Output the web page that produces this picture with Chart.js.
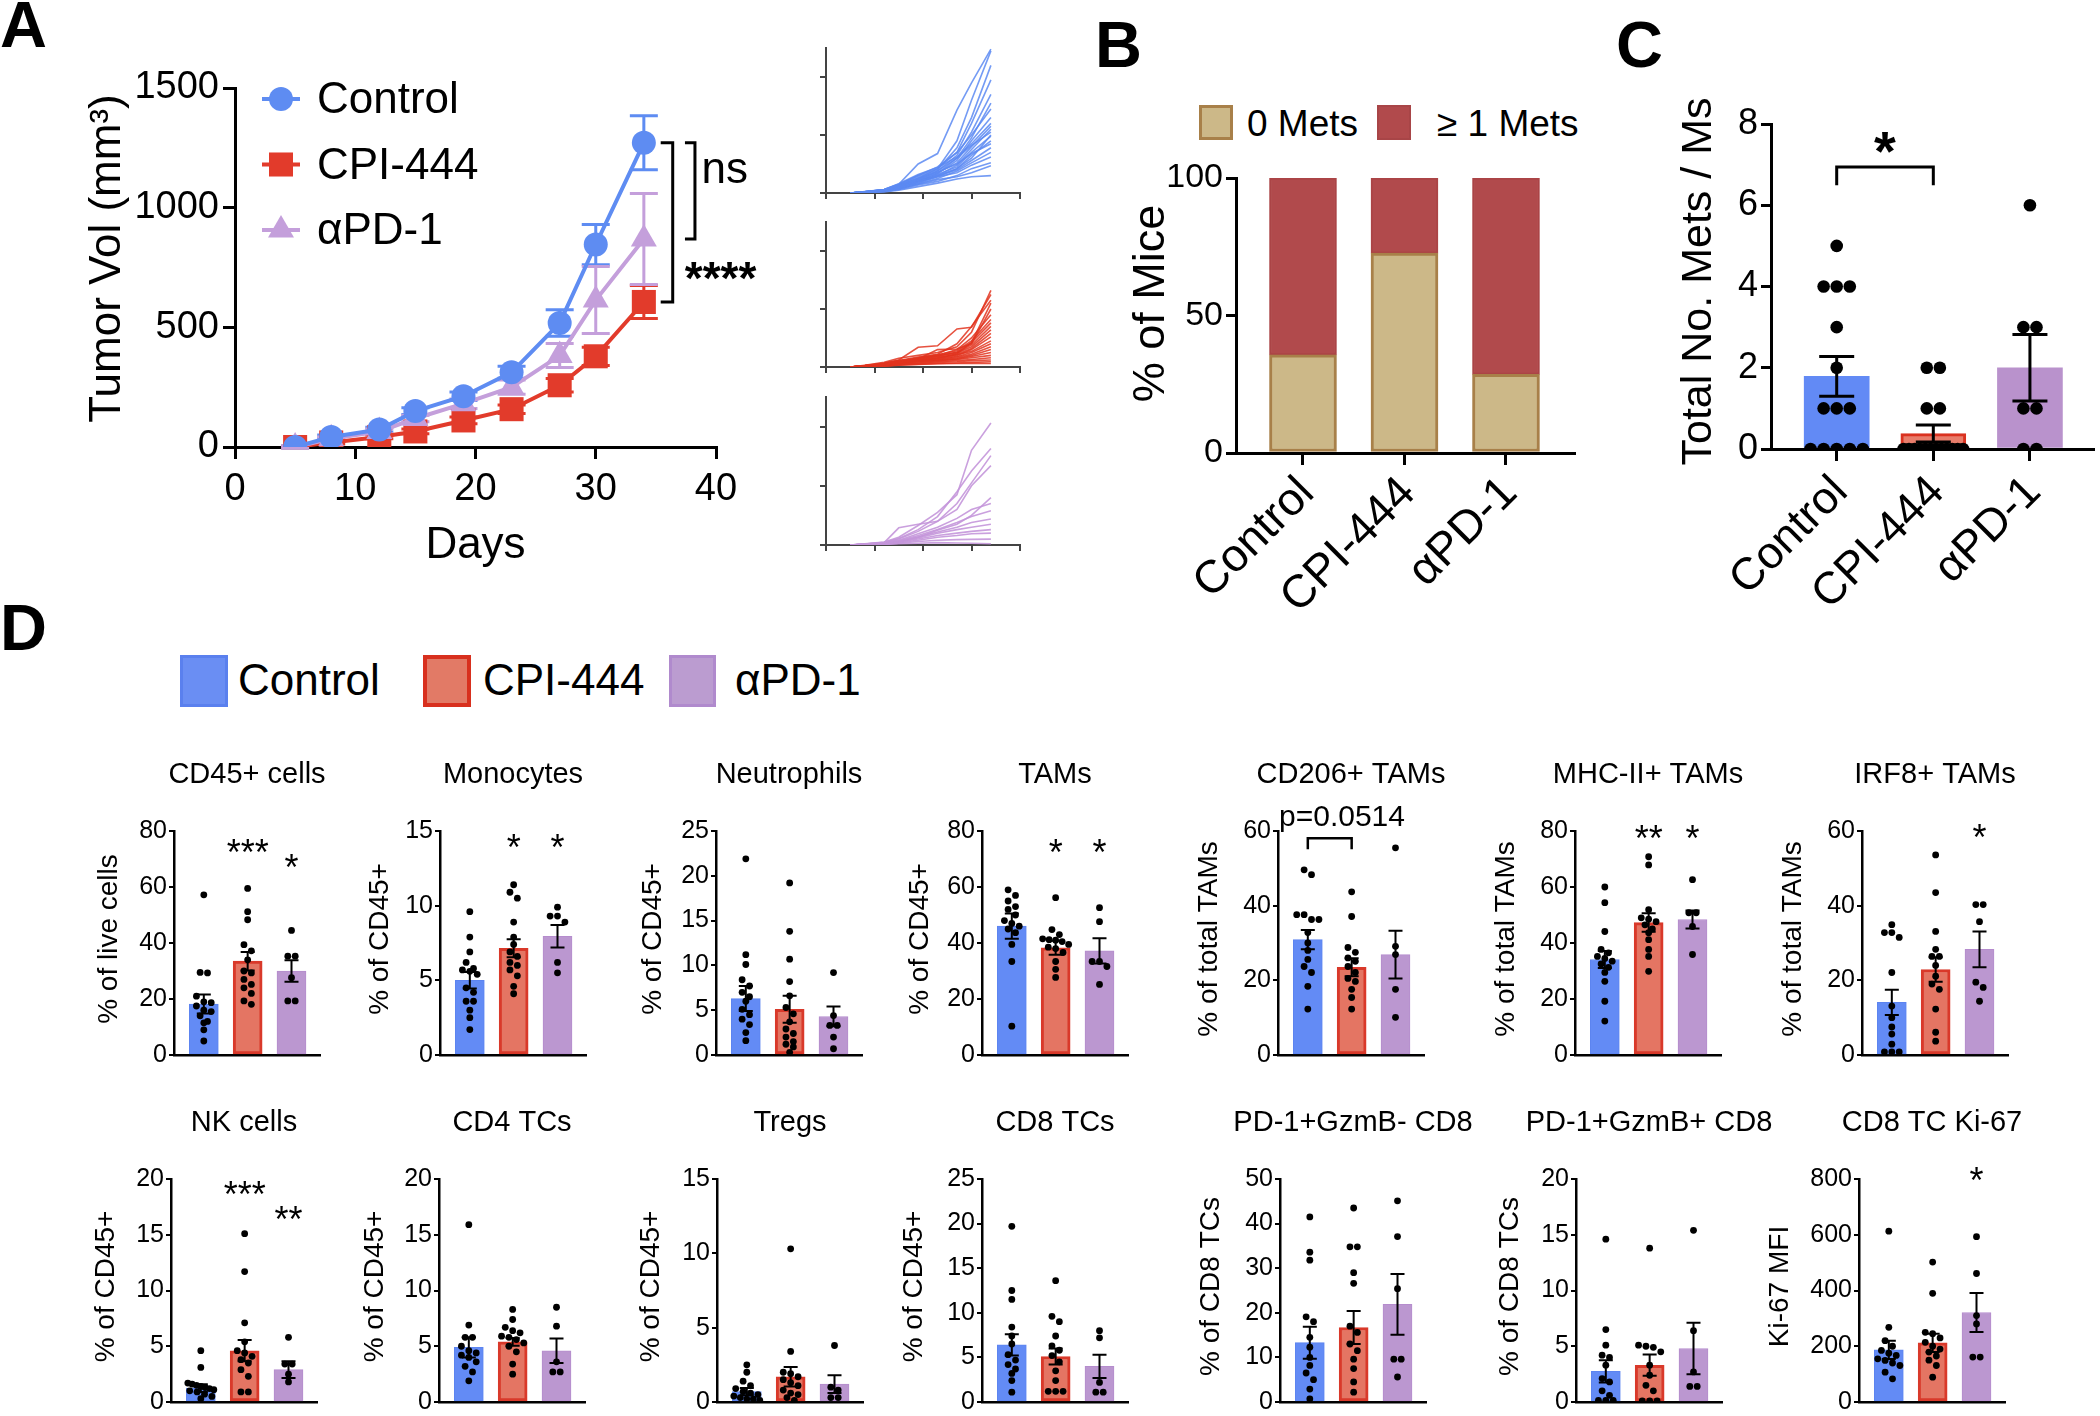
<!DOCTYPE html>
<html>
<head>
<meta charset="utf-8">
<script src="https://cdn.jsdelivr.net/npm/chart.js@4.4.1/dist/chart.umd.min.js"></script>
<style>
  body { margin: 0; background: #fff; width: 2100px; height: 1416px; position: relative; overflow: hidden;
         font-family: 'Liberation Sans', Arial, sans-serif; color: #000; }
  canvas { position: absolute; }
  .letter { position: absolute; font-weight: bold; font-size: 65px; line-height: 65px; }
  .txt { position: absolute; white-space: nowrap; }
  .box { position: absolute; box-sizing: border-box; }
</style>
</head>
<body>
<div class="letter" style="left:0px;top:-8px">A</div>
<div class="letter" style="left:1095px;top:12px">B</div>
<div class="letter" style="left:1616px;top:12px">C</div>
<div class="letter" style="left:0px;top:595px">D</div>

<!-- legend B -->
<div class="box" style="left:1199px;top:105px;width:34px;height:35px;background:#ccb888;border:3px solid #a88049"></div>
<div class="txt" style="left:1247px;top:105px;font-size:37px;line-height:37px">0 Mets</div>
<div class="box" style="left:1377px;top:105px;width:34px;height:35px;background:#b14a4c;border:2px solid #a84547"></div>
<div class="txt" style="left:1437px;top:105px;font-size:37px;line-height:37px">≥ 1 Mets</div>

<!-- legend D -->
<div class="box" style="left:180px;top:655px;width:48px;height:52px;background:#6a8ef3;border:3px solid #5a80ee"></div>
<div class="txt" style="left:238px;top:658px;font-size:44px;line-height:44px">Control</div>
<div class="box" style="left:423px;top:655px;width:48px;height:52px;background:#e27a66;border:4px solid #d8301e"></div>
<div class="txt" style="left:483px;top:658px;font-size:44px;line-height:44px">CPI-444</div>
<div class="box" style="left:669px;top:655px;width:47px;height:52px;background:#bb9cd0;border:3px solid #b08acd"></div>
<div class="txt" style="left:735px;top:658px;font-size:44px;line-height:44px">αPD-1</div>

<script>
const FONT = "'Liberation Sans', Arial, sans-serif";
Chart.defaults.font.family = FONT;
Chart.defaults.color = '#000';

// ---------- A: mean tumour volume ----------
const days = [5, 8, 12, 15, 19, 23, 27, 30, 34];
const dayTicks = [0, 10, 20, 30, 40];
const volTicks = [0, 500, 1000, 1500];
const ctrlVol = [0, 42, 73, 150, 212, 312, 518, 846, 1271];
const ctrlVolSem = [4, 8, 10, 14, 18, 25, 55, 84, 113];
const cpiVol = [0, 19, 42, 65, 111, 158, 258, 379, 606];
const cpiVolSem = [3, 6, 8, 10, 14, 18, 28, 38, 69];
const pd1Vol = [0, 34, 65, 119, 181, 250, 382, 614, 869];
const pd1VolSem = [4, 8, 10, 14, 20, 30, 50, 140, 190];

// ---------- A: individual mice ----------
const miceTicksY = [0, 1000, 2000];
const ctrlMice = [
  [0, 20, 60, 150, 500, 680, 1430, 1900, 2480],
  [0, 15, 50, 120, 250, 420, 900, 1600, 2450],
  [0, 20, 55, 130, 280, 400, 780, 1300, 2200],
  [0, 25, 60, 150, 300, 450, 700, 1200, 1950],
  [0, 20, 45, 100, 230, 380, 650, 1050, 1700],
  [0, 15, 40, 110, 220, 340, 600, 950, 1550],
  [0, 20, 50, 140, 300, 420, 700, 1000, 1450],
  [0, 10, 40, 90, 200, 330, 560, 900, 1300],
  [0, 20, 60, 160, 320, 440, 620, 850, 1200],
  [0, 15, 45, 110, 240, 350, 520, 800, 1150],
  [0, 10, 35, 80, 180, 300, 480, 750, 1100],
  [0, 20, 55, 130, 260, 380, 600, 820, 1050],
  [0, 15, 40, 100, 210, 320, 450, 700, 980],
  [0, 10, 30, 70, 170, 280, 420, 650, 900],
  [0, 20, 50, 120, 250, 360, 500, 680, 850],
  [0, 15, 35, 90, 190, 290, 400, 560, 780],
  [0, 10, 30, 80, 160, 250, 380, 520, 700],
  [0, 15, 40, 100, 200, 280, 350, 480, 620],
  [0, 10, 25, 60, 140, 200, 300, 420, 520],
  [0, 10, 30, 70, 150, 230, 280, 350, 470],
  [0, 5, 20, 50, 110, 170, 240, 280, 300],
  [0, 15, 45, 110, 220, 300, 420, 600, 1000]
];
const cpiMice = [
  [0, 30, 80, 150, 200, 250, 350, 600, 1320],
  [0, 25, 70, 120, 340, 366, 657, 686, 1250],
  [0, 20, 60, 110, 170, 220, 400, 700, 1150],
  [0, 25, 50, 90, 150, 200, 300, 500, 900],
  [0, 20, 55, 100, 160, 210, 280, 450, 820],
  [0, 15, 40, 80, 130, 180, 260, 420, 760],
  [0, 20, 60, 110, 150, 200, 250, 380, 700],
  [0, 15, 45, 90, 140, 190, 240, 350, 640],
  [0, 20, 50, 80, 120, 160, 220, 320, 580],
  [0, 10, 35, 70, 110, 150, 200, 300, 520],
  [0, 15, 45, 85, 130, 170, 210, 270, 450],
  [0, 20, 50, 80, 110, 140, 180, 250, 400],
  [0, 10, 30, 60, 100, 130, 170, 220, 350],
  [0, 15, 40, 70, 100, 120, 150, 200, 300],
  [0, 10, 30, 50, 80, 110, 140, 180, 250],
  [0, 15, 35, 60, 90, 110, 130, 160, 200],
  [0, 10, 25, 45, 70, 90, 110, 130, 160],
  [0, 10, 20, 40, 60, 80, 90, 110, 120],
  [0, 5, 15, 30, 50, 60, 70, 80, 90],
  [0, 10, 20, 35, 45, 55, 60, 65, 60],
  [0, 20, 60, 100, 140, 300, 310, 400, 1000],
  [0, 15, 40, 70, 110, 150, 230, 420, 1100]
];
const pd1Mice = [
  [0, 20, 50, 130, 330, 550, 850, 1600, 2060],
  [0, 15, 45, 110, 260, 480, 900, 1250, 1630],
  [0, 15, 40, 100, 230, 400, 700, 1050, 1510],
  [0, 10, 40, 290, 350, 400, 600, 1000, 1340],
  [0, 15, 35, 80, 190, 300, 450, 600, 700],
  [0, 10, 30, 70, 160, 260, 380, 480, 580],
  [0, 10, 30, 60, 140, 220, 300, 380, 440],
  [0, 10, 25, 50, 120, 200, 260, 300, 350],
  [0, 10, 20, 50, 100, 160, 200, 230, 260],
  [0, 5, 20, 40, 80, 130, 160, 190, 200],
  [0, 5, 15, 30, 60, 80, 90, 95, 100],
  [0, 5, 10, 20, 30, 40, 35, 30, 20],
  [0, 10, 30, 60, 130, 250, 350, 500, 800]
];

// ---------- B / C ----------
const groups = ['Control', 'CPI-444', 'αPD-1'];
const zeroMets = [35.7, 72.7, 28.6];
const anyMets = [64.3, 27.3, 71.4];
const pctTicks = [0, 50, 100];
const metsTicks = [0, 2, 4, 6, 8];
const metsMean = [1.79, 0.38, 2.0];
const metsSem = [0.49, 0.21, 0.82];
const metsCtrl = [5, 4, 4, 4, 3, 2, 1, 1, 1, 0, 0, 0, 0, 0];
const metsCpi = [2, 2, 1, 1, 0, 0, 0, 0, 0, 0, 0, 0, 0, 0, 0, 0];
const metsPd1 = [6, 3, 3, 1, 1, 0, 0];

// ---------- D ----------
const cd45Mean = [18.2, 33.5, 30.0], cd45Sem = [3.4, 3.3, 3.8];
const cd45Ctrl = [57.2, 29.5, 29.3, 21, 19, 18.7, 17.5, 16, 15.5, 14, 12, 11.5, 9, 5];
const cd45Cpi = [59.5, 51.2, 48.3, 39.4, 37.2, 34, 30, 29.3, 27, 25.2, 24, 22, 19.3, 18.1];
const cd45Pd1 = [44.5, 35.3, 35.3, 27.6, 19.3, 19.3];

const monoMean = [5.0, 7.15, 7.95], monoSem = [0.55, 0.6, 0.75];
const monoCtrl = [9.6, 7.9, 6.9, 6.2, 5.8, 5.7, 5.6, 5.4, 4.5, 4.2, 3.6, 3.6, 3.0, 2.5, 1.7];
const monoCpi = [11.4, 10.9, 10.5, 8.9, 7.9, 7.4, 6.9, 6.6, 6.2, 6.0, 5.7, 5.3, 4.6, 4.1];
const monoPd1 = [9.9, 9.3, 9.3, 8.9, 6.2, 5.5];

const neuMean = [6.3, 5.1, 4.3], neuSem = [1.4, 1.5, 1.1];
const neuCtrl = [21.9, 11.2, 10.1, 8.4, 7.7, 7.0, 6.5, 6.0, 5.1, 4.5, 4.0, 3.4, 2.5, 1.6];
const neuCpi = [19.2, 13.8, 10.7, 8.2, 6.6, 5.3, 4.6, 3.7, 2.9, 2.4, 2.0, 1.5, 1.2, 0.9, 0.3];
const neuPd1 = [9.2, 4.4, 3.3, 3.3, 2.0, 0.7];

const tamMean = [46, 38.3, 37.2], tamSem = [4.5, 2.5, 4.5];
const tamCtrl = [59, 57, 55, 53, 52, 50, 48, 47, 46, 45, 43.7, 39.5, 33.4, 10.3];
const tamCpi = [56.2, 44.8, 43, 41.5, 41.2, 41, 40.5, 39.5, 38.5, 38, 36.6, 33.4, 30.6, 27.7];
const tamPd1 = [52.6, 47.6, 33.4, 33.4, 31.6, 25.2];

const cd206Mean = [30.9, 23.5, 26.9], cd206Sem = [2.6, 2.4, 6.4];
const cd206Ctrl = [49.6, 48.3, 37.6, 37.6, 36.3, 36.3, 32.8, 30, 28, 25.6, 23.7, 22.1, 18.4, 12.3];
const cd206Cpi = [43.7, 37.1, 28.8, 27.5, 26, 25.1, 23.7, 22.1, 20.5, 19.7, 17.6, 15.4, 12.3];
const cd206Pd1 = [55.5, 29.1, 26.9, 17.6, 10.1];

const mhcMean = [34.1, 47.3, 48.4], mhcSem = [3.0, 3.3, 3.2];
const mhcCtrl = [60, 54.4, 44.1, 37.7, 36.5, 35.2, 34.5, 33.5, 32.5, 31.3, 29.5, 26.3, 19.2, 12.1];
const mhcCpi = [70.8, 67.9, 51.9, 49, 48.5, 47.6, 46.5, 45, 43.7, 41.2, 37.7, 35.2, 29.9];
const mhcPd1 = [62.6, 50.8, 50.8, 45.9, 35.9];

const irf8Mean = [14.1, 22.9, 28.3], irf8Sem = [3.4, 3.3, 4.8];
const irf8Ctrl = [34.9, 32.8, 32.8, 31.5, 22.1, 13.1, 10, 7.5, 5.6, 2.9, 0.8, 0.8, 0.8];
const irf8Cpi = [53.6, 43.5, 33.1, 28.3, 26.4, 26.4, 24, 21.1, 19, 17.6, 12.3, 6.1, 3.7];
const irf8Pd1 = [40.3, 40.3, 35.7, 19.5, 18.1, 14.4];

const nkMean = [1.25, 4.6, 2.9], nkSem = [0.35, 0.95, 0.75];
const nkCtrl = [4.6, 3.1, 1.7, 1.6, 1.5, 1.4, 1.3, 1.2, 1.1, 1.0, 0.9, 0.7, 0.5, 0.3];
const nkCpi = [15.1, 11.7, 7.1, 5.4, 4.6, 4.4, 4.1, 3.8, 3.5, 2.9, 2.3, 0.9, 0.9];
const nkPd1 = [5.8, 3.4, 3.4, 2.5, 1.8];

const cd4Mean = [4.9, 5.4, 4.6], cd4Sem = [0.9, 0.35, 1.1];
const cd4Ctrl = [15.9, 6.9, 5.8, 5.8, 5.0, 4.6, 4.4, 4.2, 4.0, 3.6, 3.2, 2.7, 1.9];
const cd4Cpi = [8.3, 7.4, 6.7, 6.4, 6.2, 5.9, 5.8, 5.6, 5.3, 5.0, 4.5, 3.4, 2.5];
const cd4Pd1 = [8.5, 6.8, 3.6, 2.7, 2.7];

const tregMean = [0.7, 1.7, 1.2], tregSem = [0.25, 0.65, 0.6];
const tregCtrl = [2.5, 2.0, 1.4, 1.1, 0.9, 0.7, 0.6, 0.5, 0.4, 0.3, 0.2, 0.2, 0.1];
const tregCpi = [10.3, 3.4, 2.0, 1.9, 1.7, 1.5, 1.3, 1.1, 0.8, 0.6, 0.5, 0.3, 0.1];
const tregPd1 = [3.8, 1.0, 0.8, 0.3, 0.3];

const cd8Mean = [6.4, 5.1, 4.0], cd8Sem = [1.2, 0.9, 1.3];
const cd8Ctrl = [19.7, 12.5, 11.5, 8.4, 7.4, 6.5, 5.3, 4.7, 4.2, 3.7, 3.2, 2.4, 1.1];
const cd8Cpi = [13.6, 9.6, 9.0, 7.4, 6.3, 5.8, 5.2, 4.5, 3.5, 2.4, 1.2, 1.2, 1.2];
const cd8Pd1 = [8.0, 7.2, 2.2, 1.1, 1.1];

const gzmNegMean = [13.3, 16.7, 21.9], gzmNegSem = [3.6, 3.7, 6.8];
const gzmNegCtrl = [41.5, 33.6, 31.8, 19.1, 18.0, 14.5, 12.3, 10, 8.2, 6.5, 5.0, 2.9, 0.7];
const gzmNegCpi = [43.5, 34.8, 34.8, 29.0, 26.6, 17, 15.6, 13, 11.5, 9.6, 7.5, 4.5, 2.2];
const gzmNegPd1 = [45.1, 37.1, 25.4, 9.6, 9.6, 5.6];

const gzmPosMean = [2.74, 3.3, 4.8], gzmPosSem = [1.0, 0.95, 2.3];
const gzmPosCtrl = [14.6, 6.5, 5.1, 4.2, 4.0, 3.3, 2.1, 1.8, 1.0, 0.6, 0.15, 0.15, 0.15];
const gzmPosCpi = [13.8, 5.1, 5.0, 4.9, 4.5, 3.3, 2.4, 1.5, 1.0, 0.1, 0.1, 0.1];
const gzmPosPd1 = [15.4, 6.4, 2.7, 1.4, 1.4];

const ki67Mean = [187, 212, 321], ki67Sem = [33, 33, 70];
const ki67Ctrl = [613, 268, 220, 200, 185, 175, 167, 155, 149, 140, 131, 107, 83];
const ki67Cpi = [502, 390, 250, 245, 230, 214, 200, 190, 179, 165, 150, 131, 89];
const ki67Pd1 = [593, 461, 310, 280, 161, 161];

const dPanels = [
  { title: 'CD45+ cells', yTitle: '% of live cells', ticks: [0, 20, 40, 60, 80], mean: cd45Mean, sem: cd45Sem, dots: [cd45Ctrl, cd45Cpi, cd45Pd1], stars: [[1, '***', 74], [2, '*', 68.5]] },
  { title: 'Monocytes', yTitle: '% of CD45+', ticks: [0, 5, 10, 15], mean: monoMean, sem: monoSem, dots: [monoCtrl, monoCpi, monoPd1], stars: [[1, '*', 14.2], [2, '*', 14.2]] },
  { title: 'Neutrophils', yTitle: '% of CD45+', ticks: [0, 5, 10, 15, 20, 25], mean: neuMean, sem: neuSem, dots: [neuCtrl, neuCpi, neuPd1], stars: [] },
  { title: 'TAMs', yTitle: '% of CD45+', ticks: [0, 20, 40, 60, 80], mean: tamMean, sem: tamSem, dots: [tamCtrl, tamCpi, tamPd1], stars: [[1, '*', 74], [2, '*', 74]] },
  { title: 'CD206+ TAMs', yTitle: '% of total TAMs', ticks: [0, 20, 40, 60], mean: cd206Mean, sem: cd206Sem, dots: [cd206Ctrl, cd206Cpi, cd206Pd1], stars: [], pval: 'p=0.0514' },
  { title: 'MHC-II+ TAMs', yTitle: '% of total TAMs', ticks: [0, 20, 40, 60, 80], mean: mhcMean, sem: mhcSem, dots: [mhcCtrl, mhcCpi, mhcPd1], stars: [[1, '**', 79], [2, '*', 79]] },
  { title: 'IRF8+ TAMs', yTitle: '% of total TAMs', ticks: [0, 20, 40, 60], mean: irf8Mean, sem: irf8Sem, dots: [irf8Ctrl, irf8Cpi, irf8Pd1], stars: [[2, '*', 59.5]] },
  { title: 'NK cells', yTitle: '% of CD45+', ticks: [0, 5, 10, 15, 20], mean: nkMean, sem: nkSem, dots: [nkCtrl, nkCpi, nkPd1], stars: [[1, '***', 19], [2, '**', 16.8]] },
  { title: 'CD4 TCs', yTitle: '% of CD45+', ticks: [0, 5, 10, 15, 20], mean: cd4Mean, sem: cd4Sem, dots: [cd4Ctrl, cd4Cpi, cd4Pd1], stars: [] },
  { title: 'Tregs', yTitle: '% of CD45+', ticks: [0, 5, 10, 15], mean: tregMean, sem: tregSem, dots: [tregCtrl, tregCpi, tregPd1], stars: [] },
  { title: 'CD8 TCs', yTitle: '% of CD45+', ticks: [0, 5, 10, 15, 20, 25], mean: cd8Mean, sem: cd8Sem, dots: [cd8Ctrl, cd8Cpi, cd8Pd1], stars: [] },
  { title: 'PD-1+GzmB- CD8', yTitle: '% of CD8 TCs', ticks: [0, 10, 20, 30, 40, 50], mean: gzmNegMean, sem: gzmNegSem, dots: [gzmNegCtrl, gzmNegCpi, gzmNegPd1], stars: [] },
  { title: 'PD-1+GzmB+ CD8', yTitle: '% of CD8 TCs', ticks: [0, 5, 10, 15, 20], mean: gzmPosMean, sem: gzmPosSem, dots: [gzmPosCtrl, gzmPosCpi, gzmPosPd1], stars: [] },
  { title: 'CD8 TC Ki-67', yTitle: 'Ki-67 MFI', ticks: [0, 200, 400, 600, 800], mean: ki67Mean, sem: ki67Sem, dots: [ki67Ctrl, ki67Cpi, ki67Pd1], stars: [[2, '*', 810]] }
];

// layout of the small panels (pixel x of each y axis, distance of its title, rows)
const dAxisX = [174, 440, 716, 982, 1278, 1575, 1862, 171, 439, 717, 982, 1280, 1576, 1859];
const dTitleOff = [65, 60, 63, 62, 69, 69, 69, 65, 64, 66, 68, 69, 66, 79];
const dRowTop = [831, 1179];
const dRowH = [225, 224];

// ---------- plugins ----------
function drawErr(chart, o) {
  const { ctx, scales: { x, y } } = chart;
  ctx.save();
  o.items.forEach(it => {
    const px = x.getPixelForValue(it.x);
    const t = y.getPixelForValue(it.hi), b = y.getPixelForValue(it.lo);
    ctx.strokeStyle = it.color;
    ctx.lineWidth = o.width;
    ctx.beginPath();
    ctx.moveTo(px, t); ctx.lineTo(px, b);
    ctx.moveTo(px - o.cap / 2, t); ctx.lineTo(px + o.cap / 2, t);
    ctx.moveTo(px - o.cap / 2, b); ctx.lineTo(px + o.cap / 2, b);
    ctx.stroke();
  });
  ctx.restore();
}
const errorBars = {
  id: 'errorBars',
  beforeDatasetsDraw(chart, args, o) { if (o.items && o.layer === 'below') drawErr(chart, o); },
  afterDatasetDraw(chart, args, o) { if (o.items && o.layer === 'bar' && args.meta.type === 'bar') drawErr(chart, o); }
};

const marks = {
  id: 'marks',
  afterDraw(chart, args, o) {
    const { ctx, scales: { x, y } } = chart;
    ctx.save();
    ctx.strokeStyle = '#000';
    (o.hBrackets || []).forEach(b => {
      const x1 = x.getPixelForValue(b.x1), x2 = x.getPixelForValue(b.x2);
      const yy = y.getPixelForValue(b.y), yd = y.getPixelForValue(b.y - b.drop);
      ctx.lineWidth = b.width;
      ctx.beginPath();
      ctx.moveTo(x1, yd); ctx.lineTo(x1, yy); ctx.lineTo(x2, yy); ctx.lineTo(x2, yd);
      ctx.stroke();
    });
    (o.vBrackets || []).forEach(b => {
      const xx = x.getPixelForValue(b.x);
      const y1 = y.getPixelForValue(b.y1), y2 = y.getPixelForValue(b.y2);
      ctx.lineWidth = b.width;
      ctx.beginPath();
      ctx.moveTo(xx - b.tick, y1); ctx.lineTo(xx, y1); ctx.lineTo(xx, y2); ctx.lineTo(xx - b.tick, y2);
      ctx.stroke();
    });
    (o.notes || []).forEach(t => {
      ctx.font = t.font;
      ctx.fillStyle = '#000';
      ctx.textAlign = t.anchor;
      ctx.textBaseline = 'middle';
      ctx.fillText(t.label, x.getPixelForValue(t.x), y.getPixelForValue(t.y) + t.nudge);
    });
    ctx.restore();
  }
};
function note(x, y, label, font, anchor, nudge) { return { x, y, label, font, anchor, nudge }; }

const lineLegend = {
  id: 'lineLegend',
  afterDraw(chart, args, o) {
    if (!o.show) return;
    const { ctx, chartArea } = chart;
    ctx.save();
    chart.data.datasets.forEach((ds, i) => {
      const cx = chartArea.left + o.dx, cy = chartArea.top + o.dy + i * o.gap;
      ctx.strokeStyle = ds.borderColor;
      ctx.lineWidth = ds.borderWidth;
      ctx.beginPath(); ctx.moveTo(cx - o.half, cy); ctx.lineTo(cx + o.half, cy); ctx.stroke();
      ctx.fillStyle = ds.borderColor;
      Chart.helpers.drawPoint(ctx, { pointStyle: ds.pointStyle, radius: ds.pointRadius, rotation: 0, borderWidth: 0 }, cx, cy);
      ctx.font = o.font;
      ctx.fillStyle = '#000';
      ctx.textAlign = 'left';
      ctx.textBaseline = 'middle';
      ctx.fillText(ds.label, cx + o.textGap, cy + 2);
    });
    ctx.restore();
  }
};

// axis title on the left, drawn without squeezing
const yTitle = {
  id: 'yTitle',
  afterDraw(chart, args, o) {
    if (!o.label) return;
    const { ctx, chartArea } = chart;
    ctx.save();
    ctx.translate(chartArea.left - o.off, (chartArea.top + chartArea.bottom) / 2 + o.dy);
    ctx.rotate(-Math.PI / 2);
    ctx.font = o.font; ctx.fillStyle = '#000'; ctx.textAlign = 'center'; ctx.textBaseline = 'middle';
    ctx.fillText(o.label, 0, 0);
    ctx.restore();
  }
};

// panel heading centred over the plot
const panelTitle = {
  id: 'panelTitle',
  afterDraw(chart, args, o) {
    if (!o.label) return;
    const { ctx, chartArea } = chart;
    ctx.save();
    ctx.font = o.font; ctx.fillStyle = '#000'; ctx.textAlign = 'center'; ctx.textBaseline = 'middle';
    ctx.fillText(o.label, (chartArea.left + chartArea.right) / 2, chartArea.top - o.rise);
    ctx.restore();
  }
};

// category names at 45 degrees, right end at the tick
const rotLabels = {
  id: 'rotLabels',
  afterDraw(chart, args, o) {
    if (!o.names) return;
    const { ctx, scales: { x }, chartArea } = chart;
    ctx.save();
    ctx.font = o.font; ctx.fillStyle = '#000'; ctx.textAlign = 'right'; ctx.textBaseline = 'middle';
    o.names.forEach((t, i) => {
      ctx.save();
      ctx.translate(x.getPixelForValue(i) + o.dx, chartArea.bottom + o.dy);
      ctx.rotate(-Math.PI / 4);
      ctx.fillText(t, 0, 0);
      ctx.restore();
    });
    ctx.restore();
  }
};
Chart.register(errorBars, marks, lineLegend, yTitle, panelTitle, rotLabels);

// ---------- helpers ----------
function setTicks(arr) { return s => { s.ticks = arr.map(v => ({ value: v })); }; }
function fixW(w) { return s => { s.width = w; }; }
function fixH(h) { return s => { s.height = h; }; }
const plain = v => String(v);

function makeCanvas(left, top, w, h) {
  const c = document.createElement('canvas');
  c.width = w; c.height = h;
  c.style.left = left + 'px'; c.style.top = top + 'px';
  c.style.width = w + 'px'; c.style.height = h + 'px';
  document.body.appendChild(c);
  return c;
}

// rows of dots spread sideways (deterministic dot-plot layout)
function swarm(vals, gx, pxX, pxY, r, spread) {
  const sorted = vals.slice().sort((a, b) => b - a);
  const pts = [];
  let i = 0;
  while (i < sorted.length) {
    const row = [sorted[i]];
    let j = i + 1;
    while (j < sorted.length && (sorted[i] - sorted[j]) * pxY < 2 * r) { row.push(sorted[j]); j++; }
    const n = row.length;
    const gap = n > 1 ? Math.min(2 * r + 0.6, 2 * spread / (n - 1)) : 0;
    row.forEach((v, k) => pts.push({ x: gx + (k - (n - 1) / 2) * gap / pxX, y: v }));
    i = j;
  }
  return pts;
}

const GROUP_X = [0, 1, 2];
const BLUE = '#5e8cf2', RED = '#e23b2b', PURPLE = '#c49fdb';

// ---------- Panel A main ----------
function volData(v) { return days.map((d, i) => ({ x: d, y: v[i] })); }
function errItems(v, s, color) { return days.map((d, i) => ({ x: d, lo: v[i] - s[i], hi: v[i] + s[i], color })); }

new Chart(makeCanvas(60, 40, 746, 532), {
  type: 'line',
  data: {
    datasets: [
      { label: 'Control', data: volData(ctrlVol), borderColor: BLUE, backgroundColor: BLUE, borderWidth: 4, pointStyle: 'circle', pointRadius: 12, pointBorderWidth: 0, order: 1 },
      { label: 'CPI-444', data: volData(cpiVol), borderColor: RED, backgroundColor: RED, borderWidth: 4, pointStyle: 'rect', pointRadius: 17, pointBorderWidth: 0, order: 3 },
      { label: 'αPD-1', data: volData(pd1Vol), borderColor: PURPLE, backgroundColor: PURPLE, borderWidth: 4, pointStyle: 'triangle', pointRadius: 15, pointBorderWidth: 0, order: 2 }
    ]
  },
  options: {
    responsive: false, animation: false, events: [],
    layout: { padding: { top: 48, right: 90, left: 0, bottom: 0 } },
    plugins: {
      legend: { display: false }, tooltip: { enabled: false },
      errorBars: { layer: 'below', width: 3, cap: 28,
        items: [...errItems(ctrlVol, ctrlVolSem, BLUE), ...errItems(cpiVol, cpiVolSem, RED), ...errItems(pd1Vol, pd1VolSem, PURPLE)] },
      lineLegend: { show: true, dx: 46, dy: 11, gap: 65.5, half: 19, textGap: 36, font: '44px ' + FONT },
      yTitle: { label: 'Tumor Vol (mm³)', font: '44px ' + FONT, off: 127, dy: -9 },
      marks: {
        vBrackets: [
          { x: 38.25, y1: ctrlVol[8], y2: pd1Vol[8], tick: 10, width: 3 },
          { x: 36.4, y1: ctrlVol[8], y2: cpiVol[8], tick: 12, width: 3 }
        ],
        notes: [
          note(38.8, 1155, 'ns', '44px ' + FONT, 'left', 0),
          note(37.4, 730, '****', 'bold 46px ' + FONT, 'left', 9)
        ]
      }
    },
    scales: {
      x: { type: 'linear', min: 0, max: 40, afterBuildTicks: setTicks(dayTicks), afterFit: fixH(125),
           ticks: { font: { size: 38 }, padding: 8, callback: plain },
           grid: { drawOnChartArea: false, tickLength: 12, lineWidth: 3, color: '#000' },
           border: { color: '#000', width: 3 },
           title: { display: true, text: 'Days', font: { size: 44 }, padding: 0 } },
      y: { min: 0, max: 1500, afterBuildTicks: setTicks(volTicks), afterFit: fixW(175),
           ticks: { font: { size: 38 }, padding: 4, callback: plain },
           grid: { drawOnChartArea: false, tickLength: 12, lineWidth: 3, color: '#000' },
           border: { color: '#000', width: 3 } }
    }
  }
});

// ---------- Panel A individual mice ----------
function miceChart(top, h, mice, color) {
  new Chart(makeCanvas(816, top - 8, 210, h + 18), {
    type: 'line',
    data: { datasets: mice.map(m => ({ data: days.map((d, i) => ({ x: d, y: m[i] })), borderColor: color, borderWidth: 1.6, pointRadius: 0, fill: false })) },
    options: {
      responsive: false, animation: false, events: [],
      layout: { padding: { top: 8, right: 6, left: 0, bottom: 0 } },
      plugins: { legend: { display: false }, tooltip: { enabled: false } },
      scales: {
        x: { type: 'linear', min: 0, max: 40, afterBuildTicks: setTicks(dayTicks), afterFit: fixH(10),
             ticks: { display: false }, grid: { drawOnChartArea: false, tickLength: 6, lineWidth: 2, color: '#444' },
             border: { color: '#444', width: 2 } },
        y: { min: 0, max: 2500, afterBuildTicks: setTicks(miceTicksY), afterFit: fixW(10),
             ticks: { display: false }, grid: { drawOnChartArea: false, tickLength: 6, lineWidth: 2, color: '#444' },
             border: { color: '#444', width: 2 } }
      }
    }
  });
}
miceChart(48, 145, ctrlMice, 'rgba(92,137,242,0.85)');
miceChart(222, 145, cpiMice, 'rgba(226,52,30,0.85)');
miceChart(397, 148, pd1Mice, 'rgba(196,150,218,0.9)');

// ---------- Panel B ----------
new Chart(makeCanvas(1125, 150, 464, 473), {
  type: 'bar',
  data: {
    datasets: [
      { data: GROUP_X.map((x, i) => ({ x, y: zeroMets[i] })), backgroundColor: '#ccb888', borderColor: '#a88049', borderWidth: 3, borderSkipped: false, barThickness: 67 },
      { data: GROUP_X.map((x, i) => ({ x, y: anyMets[i] })), backgroundColor: '#b14a4c', borderColor: '#ab4446', borderWidth: 2, borderSkipped: false, barThickness: 67 }
    ]
  },
  options: {
    responsive: false, animation: false, events: [],
    layout: { padding: { top: 28, right: 15, left: 0, bottom: 0 } },
    plugins: {
      legend: { display: false }, tooltip: { enabled: false },
      yTitle: { label: '% of Mice', font: '45px ' + FONT, off: 84, dy: -12 },
      rotLabels: { names: groups, font: '46px ' + FONT, dx: 4, dy: 33 }
    },
    scales: {
      x: { type: 'linear', stacked: true, offset: false, min: -0.66, max: 2.67, afterBuildTicks: setTicks(GROUP_X), afterFit: fixH(170),
           ticks: { display: false },
           grid: { offset: false, drawOnChartArea: false, tickLength: 12, lineWidth: 3, color: '#000' },
           border: { color: '#000', width: 3 } },
      y: { stacked: true, min: 0, max: 100, afterBuildTicks: setTicks(pctTicks), afterFit: fixW(111),
           ticks: { font: { size: 34 }, padding: 3 },
           grid: { drawOnChartArea: false, tickLength: 10, lineWidth: 3, color: '#000' },
           border: { color: '#000', width: 3 } }
    }
  }
});

// ---------- Panel C ----------
(function () {
  const pxX = 97.5, pxY = 40.6;
  const dots = [metsCtrl, metsCpi, metsPd1].flatMap((v, g) => swarm(v, g, pxX, pxY, 6.3, 30));
  new Chart(makeCanvas(1673, 95, 427, 524), {
    type: 'bar',
    data: {
      datasets: [
        { type: 'bar', data: GROUP_X.map((x, i) => ({ x, y: metsMean[i] })), backgroundColor: ['#628af5', '#e87d6b', '#b992cc'],
          borderColor: ['#628af5', '#da3220', '#b992cc'], borderWidth: [0, 3, 0], borderSkipped: false, barThickness: 65, order: 3 },
        { type: 'scatter', data: dots, backgroundColor: '#000', pointRadius: 6.3, pointBorderWidth: 0, order: 1 }
      ]
    },
    options: {
      responsive: false, animation: false, events: [],
      layout: { padding: { top: 29, right: 3, left: 0, bottom: 0 } },
      plugins: {
        legend: { display: false }, tooltip: { enabled: false },
        errorBars: { layer: 'bar', width: 3, cap: 35, items: GROUP_X.map((x, i) => ({ x, lo: metsMean[i] - metsSem[i], hi: metsMean[i] + metsSem[i], color: '#000' })) },
        yTitle: { label: 'Total No. Mets / Ms', font: '43px ' + FONT, off: 72, dy: -5 },
        rotLabels: { names: groups, font: '45px ' + FONT, dx: 4, dy: 36 },
        marks: {
          hBrackets: [{ x1: 0, x2: 1, y: 6.94, drop: 0.45, width: 3 }],
          notes: [note(0.5, 7.55, '*', 'bold 56px ' + FONT, 'center', 12)]
        }
      },
      scales: {
        x: { type: 'linear', offset: false, min: -0.68, max: 2.66, afterBuildTicks: setTicks(GROUP_X), afterFit: fixH(170),
             ticks: { display: false },
             grid: { offset: false, drawOnChartArea: false, tickLength: 12, lineWidth: 3, color: '#000' },
             border: { color: '#000', width: 3 } },
        y: { min: 0, max: 8, afterBuildTicks: setTicks(metsTicks), afterFit: fixW(98),
             ticks: { font: { size: 36 }, padding: 3 },
             grid: { drawOnChartArea: false, tickLength: 10, lineWidth: 3, color: '#000' },
             border: { color: '#000', width: 3 } }
      }
    }
  });
})();

// ---------- Panel D ----------
dPanels.forEach((p, k) => {
  const row = k < 7 ? 0 : 1;
  const top = dRowTop[row], h = dRowH[row];
  const axW = Math.max(90, dTitleOff[k] + 18);
  const plotW = 146, xMin = -0.68, xMax = 2.65, padR = 72;
  const pxX = plotW / (xMax - xMin);
  const yMax = p.ticks[p.ticks.length - 1];
  const pxY = h / yMax;
  const dots = p.dots.flatMap((v, g) => swarm(v, g, pxX, pxY, 3.4, 13));
  const notes = p.stars.map(s => note(s[0], s[2], s[1], '36px ' + FONT, 'center', 7));
  const hBrackets = [];
  if (p.pval) {
    hBrackets.push({ x1: 0, x2: 1, y: yMax * 0.968, drop: yMax * 0.05, width: 2.5 });
    notes.push(note(0.78, yMax * 1.06, p.pval, '30px ' + FONT, 'center', 0));
  }
  new Chart(makeCanvas(dAxisX[k] - axW, top - 90, axW + plotW + padR, 90 + h + 16), {
    type: 'bar',
    data: {
      datasets: [
        { type: 'bar', data: GROUP_X.map((x, i) => ({ x, y: p.mean[i] })), backgroundColor: ['#638bf5', '#e47563', '#bb97d0'],
          borderColor: ['#5c84f0', '#d9392a', '#b58ccd'], borderWidth: [1, 3, 1], borderSkipped: false, barThickness: 29, order: 3 },
        { type: 'scatter', data: dots, backgroundColor: '#000', pointRadius: 3.4, pointBorderWidth: 0, order: 1 }
      ]
    },
    options: {
      responsive: false, animation: false, events: [],
      layout: { padding: { top: 90, right: padR, left: 0, bottom: 0 } },
      plugins: {
        legend: { display: false }, tooltip: { enabled: false },
        panelTitle: { label: p.title, font: '29px ' + FONT, rise: 56 },
        yTitle: { label: p.yTitle, font: '28px ' + FONT, off: dTitleOff[k], dy: -4 },
        errorBars: { layer: 'bar', width: 2, cap: 14, items: GROUP_X.map((x, i) => ({ x, lo: p.mean[i] - p.sem[i], hi: p.mean[i] + p.sem[i], color: '#000' })) },
        marks: { notes, hBrackets }
      },
      scales: {
        x: { type: 'linear', offset: false, min: xMin, max: xMax, afterFit: fixH(16),
             ticks: { display: false }, grid: { display: false, offset: false },
             border: { color: '#000', width: 2.5 } },
        y: { min: 0, max: yMax, afterBuildTicks: setTicks(p.ticks), afterFit: fixW(axW),
             ticks: { font: { size: 25 }, padding: 2 },
             grid: { drawOnChartArea: false, tickLength: 5, lineWidth: 2, color: '#000' },
             border: { color: '#000', width: 2.5 } }
      }
    }
  });
});
</script>
</body>
</html>
